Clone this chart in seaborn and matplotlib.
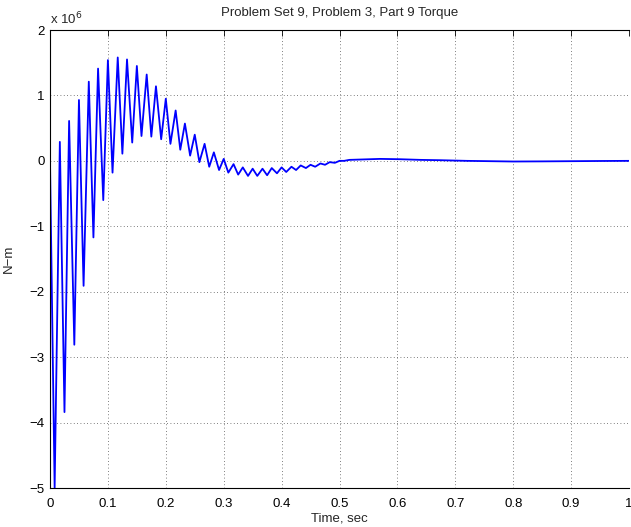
import matplotlib
matplotlib.use("Agg")
import matplotlib.pyplot as plt
import seaborn as sns
import pandas as pd

# Torque trace (time in s, torque in units of 1e6 N-m)
time_s = [0.000, 0.008, 0.017, 0.025, 0.033, 0.042, 0.050, 0.058, 0.067, 0.075,
          0.083, 0.092, 0.100, 0.108, 0.117, 0.125, 0.133, 0.142, 0.150, 0.158,
          0.167, 0.175, 0.183, 0.192, 0.200, 0.208, 0.217, 0.225, 0.233, 0.242,
          0.250, 0.258, 0.267, 0.275, 0.283, 0.292, 0.300, 0.308, 0.317, 0.325,
          0.333, 0.342, 0.350, 0.358, 0.367, 0.375, 0.383, 0.392, 0.400, 0.408,
          0.417, 0.425, 0.433, 0.442, 0.450, 0.458, 0.467, 0.475, 0.483, 0.492,
          0.500, 0.508, 0.517, 0.535, 0.570, 0.604, 0.640, 0.674, 0.720, 0.760,
          0.800, 0.850, 0.900, 0.950, 1.000]
torque_1e6 = [0.00, -5.00, 0.29, -3.84, 0.61, -2.81, 0.93, -1.91, 1.21, -1.17,
              1.41, -0.60, 1.54, -0.18, 1.58, 0.11, 1.55, 0.28, 1.45, 0.38,
              1.32, 0.37, 1.14, 0.33, 0.95, 0.26, 0.77, 0.17, 0.57, 0.08,
              0.40, -0.02, 0.26, -0.09, 0.13, -0.14, 0.03, -0.18, -0.05, -0.21,
              -0.10, -0.23, -0.12, -0.23, -0.12, -0.22, -0.11, -0.19, -0.10, -0.17,
              -0.09, -0.14, -0.07, -0.11, -0.06, -0.09, -0.04, -0.06, -0.02, -0.03,
              0.00, 0.00, 0.015, 0.02, 0.03, 0.025, 0.015, 0.01, 0.00, -0.005,
              -0.01, -0.008, -0.005, -0.002, 0.00]

x_ticks = [0.0, 0.1, 0.2, 0.3, 0.4, 0.5, 0.6, 0.7, 0.8, 0.9, 1.0]
x_tick_labels = ["0", "0.1", "0.2", "0.3", "0.4", "0.5", "0.6", "0.7", "0.8", "0.9", "1"]
y_ticks = [-5, -4, -3, -2, -1, 0, 1, 2]
y_tick_labels = ["\u22125", "\u22124", "\u22123", "\u22122", "\u22121", "0", "1", "2"]

title = "Problem Set 9, Problem 3, Part 9 Torque"
xlabel = "Time, sec"
ylabel = "N\u2212m"

sns.set_style("white")
plt.rcParams['font.family'] = ['Liberation Sans', 'DejaVu Sans']
plt.rcParams['font.size'] = 9.5

df = pd.DataFrame({"t": time_s, "T": torque_1e6})

fig = plt.figure(figsize=(6.31, 5.27), dpi=100)
ax = fig.add_axes([50/631, 1 - 488/527, 579/631, 458/527])
line_ax = sns.lineplot(data=df, x="t", y="T", ax=ax, color=(0, 0, 1), linewidth=1.3,
                       estimator=None, sort=False)
for ln in ax.lines:
    ln.set_solid_joinstyle("round")
    ln.set_solid_capstyle("round")

ax.set_xlim(0, 1)
ax.set_ylim(-5, 2)
ax.set_xticks(x_ticks)
ax.set_xticklabels(x_tick_labels)
ax.set_yticks(y_ticks)
ax.set_yticklabels(y_tick_labels)
ax.tick_params(axis="x", direction="in", length=4, width=0.6, top=True,
               labelsize=9.5, colors="black", pad=7)
ax.tick_params(axis="y", direction="in", length=4, width=0.6, right=False,
               labelsize=9.5, colors="black", pad=4)
ax.grid(True, linestyle=(0, (1, 3)), color="#555555", linewidth=0.6)
for side in ["left", "bottom", "top"]:
    ax.spines[side].set_color("black")
    ax.spines[side].set_linewidth(0.8)
ax.spines["right"].set_visible(False)

ax.set_title(title, fontsize=9.5, pad=10)
ax.set_xlabel(xlabel, fontsize=9.5, labelpad=2)
ax.set_ylabel(ylabel, fontsize=9.5, labelpad=10)
ax.text(0.0, 1.005, "x 10$^{6}$", transform=ax.transAxes, fontsize=9.5,
        ha="left", va="bottom")

fig.savefig("out.png", dpi=100)
